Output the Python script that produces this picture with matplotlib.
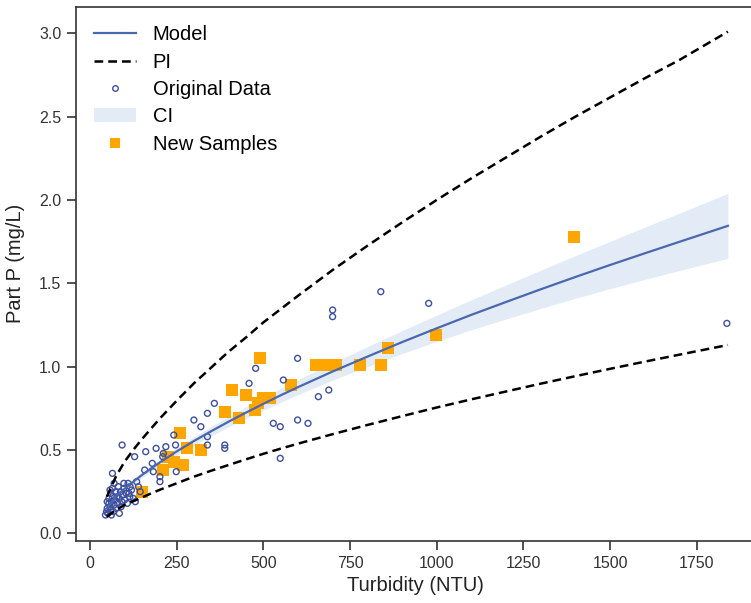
import matplotlib
matplotlib.use("Agg")
import matplotlib.pyplot as plt
from matplotlib.lines import Line2D
from matplotlib.patches import Patch

plt.rcParams['font.family'] = ['Liberation Sans', 'DejaVu Sans']

# model curve, prediction interval and confidence band
curve_x = [49, 75, 100, 125, 150, 175, 200, 250, 300, 350, 400, 450, 500, 550, 600,
           700, 800, 900, 1000, 1100, 1200, 1300, 1400, 1500, 1600, 1700, 1840]
model_y = [0.15, 0.221, 0.268, 0.310, 0.350, 0.387, 0.423, 0.491, 0.554, 0.613, 0.670, 0.724, 0.777, 0.828, 0.877,
           0.971, 1.060, 1.147, 1.230, 1.311, 1.388, 1.464, 1.538, 1.610, 1.680, 1.749, 1.845]
pi_upper = [0.22, 0.34, 0.43, 0.50, 0.565, 0.625, 0.685, 0.795, 0.90, 0.995, 1.09, 1.175, 1.265, 1.345, 1.425,
            1.58, 1.725, 1.865, 2.00, 2.13, 2.255, 2.38, 2.50, 2.615, 2.73, 2.84, 3.01]
pi_lower = [0.10, 0.14, 0.17, 0.193, 0.215, 0.238, 0.26, 0.30, 0.34, 0.376, 0.41, 0.444, 0.477, 0.508, 0.538,
            0.595, 0.65, 0.703, 0.755, 0.804, 0.851, 0.898, 0.943, 0.987, 1.03, 1.072, 1.13]
ci_half = [0.02, 0.016, 0.015, 0.015, 0.016, 0.018, 0.02, 0.022, 0.025, 0.028, 0.031, 0.035, 0.039, 0.042, 0.045,
           0.052, 0.06, 0.069, 0.079, 0.09, 0.102, 0.115, 0.128, 0.142, 0.157, 0.172, 0.195]

# original data (open circles)
orig_x = [839, 977, 700, 700, 1837, 599, 478, 459, 558, 689, 659, 359, 339, 300, 320,
          529, 549, 599, 629, 242, 339, 339, 389, 389, 549, 93, 129, 161, 191, 219,
          247, 210, 180, 158, 183, 65, 202, 202, 249, 131, 98, 116, 113, 212, 135,
          45, 48, 50, 52, 55, 55, 58, 60, 60, 62, 65, 65, 68, 70, 70,
          72, 75, 75, 78, 80, 82, 85, 88, 90, 92, 95, 98, 100, 105, 108,
          110, 115, 120, 125, 140, 145, 50, 58, 85, 62]
orig_y = [1.45, 1.38, 1.34, 1.30, 1.26, 1.05, 0.99, 0.90, 0.92, 0.86, 0.82, 0.78, 0.72, 0.68, 0.64,
          0.66, 0.64, 0.68, 0.66, 0.59, 0.58, 0.53, 0.53, 0.51, 0.45, 0.53, 0.46, 0.49, 0.51, 0.52,
          0.53, 0.46, 0.42, 0.38, 0.37, 0.36, 0.34, 0.31, 0.37, 0.19, 0.30, 0.28, 0.24, 0.48, 0.31,
          0.11, 0.13, 0.15, 0.12, 0.18, 0.21, 0.16, 0.14, 0.24, 0.19, 0.22, 0.27, 0.13, 0.17, 0.30,
          0.20, 0.25, 0.15, 0.22, 0.18, 0.28, 0.21, 0.25, 0.16, 0.19, 0.23, 0.27, 0.20, 0.24, 0.18,
          0.30, 0.22, 0.26, 0.21, 0.28, 0.25, 0.19, 0.26, 0.12, 0.11]

# new samples (orange squares)
new_x = [149, 210, 226, 243, 260, 269, 279, 320, 390, 409, 430, 450, 476, 486, 491,
         500, 520, 580, 653, 683, 710, 780, 839, 859, 998, 1395]
new_y = [0.25, 0.38, 0.46, 0.43, 0.60, 0.41, 0.51, 0.50, 0.73, 0.86, 0.69, 0.83, 0.74, 0.78, 1.05,
         0.81, 0.81, 0.89, 1.01, 1.01, 1.01, 1.01, 1.01, 1.11, 1.19, 1.78]

line_blue = '#4a68b0'
pt_blue = '#3d4f9e'
band_blue = '#c9d8ee'
orange = '#ffa500'
ink = '#333333'

fig = plt.figure(figsize=(7.51, 6.03), dpi=100)
ax = fig.add_axes([0.1012, 0.1028, 0.905, 0.8856])

ci_lo = [m - h for m, h in zip(model_y, ci_half)]
ci_hi = [m + h for m, h in zip(model_y, ci_half)]
ax.fill_between(curve_x, ci_lo, ci_hi, color=band_blue, alpha=0.5, lw=0, zorder=1)

ax.scatter(new_x, new_y, marker='s', s=65, color=orange, lw=0, zorder=2)
ax.scatter(orig_x, orig_y, marker='o', s=18, facecolors='none', edgecolors=pt_blue,
           linewidths=1.0, zorder=3)
ax.plot(curve_x, model_y, color=line_blue, lw=1.6, zorder=4)
ax.plot(curve_x, pi_upper, color='black', lw=1.8, dashes=(3.5, 2), zorder=4)
ax.plot(curve_x, pi_lower, color='black', lw=1.8, dashes=(3.5, 2), zorder=4)

ax.set_xlim(-40, 1920)
ax.set_ylim(-0.046, 3.158)
ax.set_xticks([0, 250, 500, 750, 1000, 1250, 1500, 1750])
ax.set_yticks([0.0, 0.5, 1.0, 1.5, 2.0, 2.5, 3.0])
ax.set_yticklabels(['0.0', '0.5', '1.0', '1.5', '2.0', '2.5', '3.0'])

ax.set_xlabel('Turbidity (NTU)', fontsize=14.5, color='#222222', labelpad=4)
ax.set_ylabel('Part P (mg/L)', fontsize=14.5, color='#222222')
ax.yaxis.set_label_coords(-0.075, 0.52)
ax.tick_params(labelsize=11.5, labelcolor=ink, color=ink, length=6.5, width=1.2,
               direction='out', pad=4)
for side in ['left', 'bottom', 'top']:
    ax.spines[side].set_color(ink)
    ax.spines[side].set_linewidth(1.2)
ax.spines['right'].set_visible(False)

handles = [
    Line2D([], [], color=line_blue, lw=1.6),
    Line2D([], [], color='black', lw=1.8, dashes=(3.5, 2)),
    Line2D([], [], ls='none', marker='o', markersize=4, markerfacecolor='none',
           markeredgecolor=pt_blue, markeredgewidth=1.0),
    Patch(facecolor=band_blue, alpha=0.5, lw=0),
    Line2D([], [], ls='none', marker='s', markersize=7.5, color=orange, markeredgewidth=0),
]
labels = ['Model', 'PI', 'Original Data', 'CI', 'New Samples']
ax.legend(handles, labels, loc='upper left', frameon=False, fontsize=14.5,
          labelspacing=0.42, handlelength=2.1, handletextpad=0.8, borderaxespad=0.5)

fig.savefig('out.png', dpi=100)
